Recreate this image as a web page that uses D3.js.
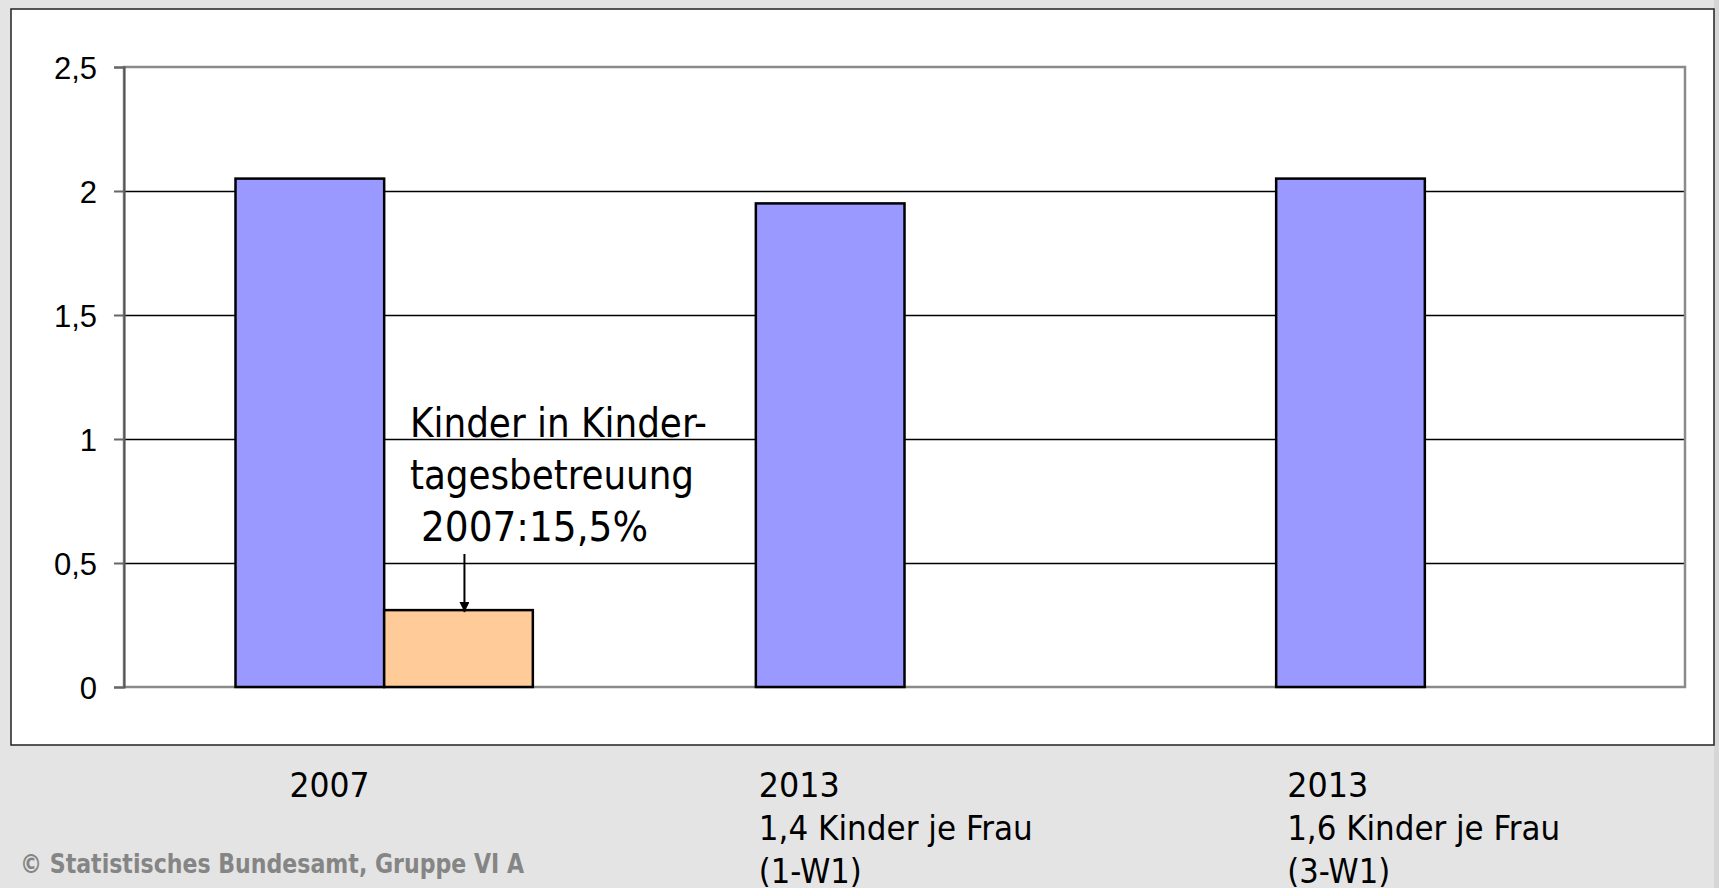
<!DOCTYPE html>
<html lang="de">
<head>
<meta charset="utf-8">
<title>Kinder je Frau</title>
<script src="https://cdnjs.cloudflare.com/ajax/libs/d3/7.8.5/d3.min.js"></script>
<style>
  body { margin: 0; background: #e4e4e4; }
  .narrow { font-family: "DejaVu Sans Condensed", "DejaVu Sans", sans-serif; font-stretch: condensed; }
</style>
</head>
<body>
<svg id="chart" width="1719" height="888"></svg>
<script>
// categories (x axis) and their label lines
var categories = ["2007", "2013 (1-W1)", "2013 (3-W1)"];
var categoryLabels = [["2007"], ["2013", "1,4 Kinder je Frau", "(1-W1)"], ["2013", "1,6 Kinder je Frau", "(3-W1)"]];
// series values
var seriesNames = ["kinder", "betreuung"];
var kinderJeFrau = [2.05, 1.95, 2.05];
var betreuung = [0.31, null, null];
var yTicks = [0, 0.5, 1, 1.5, 2, 2.5];

var svg = d3.select("#chart");
var W = 1719, H = 888;
var plot = {left: 124, right: 1685, top: 67, bottom: 687};

// stretch a text line to a width seen in the original
function fit(sel, w) {
  sel.attr("textLength", w).attr("lengthAdjust", "spacingAndGlyphs");
}

// background + white panel
svg.append("rect").attr("width", W).attr("height", H).attr("fill", "#e4e4e4");
svg.append("rect").attr("x", 1714).attr("y", 0).attr("width", 5).attr("height", H).attr("fill", "#d6d6d6");
svg.append("rect").attr("x", 11).attr("y", 9).attr("width", 1703).attr("height", 736)
  .attr("fill", "#fff").attr("stroke", "#222").attr("stroke-width", 1.5);

var x = d3.scaleBand().domain(categories).range([plot.left, plot.right]).padding(0);
var xSub = d3.scaleBand().domain(seriesNames).range([0, x.bandwidth()])
  .paddingInner(0).paddingOuter(0.75);
var y = d3.scaleLinear().domain([0, 2.5]).range([plot.bottom, plot.top]);

// gridlines
svg.append("g").selectAll("line").data(yTicks.filter(function(d){ return d > 0 && d < 2.5; }))
  .enter().append("line")
  .attr("x1", plot.left).attr("x2", plot.right)
  .attr("y1", function(d){ return Math.round(y(d)) + 0.5; }).attr("y2", function(d){ return Math.round(y(d)) + 0.5; })
  .attr("stroke", "#000").attr("stroke-width", 1.3);

// plot frame (gray)
svg.append("rect").attr("x", plot.left).attr("y", plot.top)
  .attr("width", plot.right - plot.left).attr("height", plot.bottom - plot.top)
  .attr("fill", "none").attr("stroke", "#8a8a8a").attr("stroke-width", 2.5);

// y axis
var yAxis = svg.append("g").attr("transform", "translate(" + plot.left + ",0)")
  .call(d3.axisLeft(y).tickValues(yTicks).tickSize(10).tickPadding(17)
    .tickFormat(function(d){ return String(d).replace(".", ","); }));
yAxis.select(".domain").attr("stroke", "#555").attr("stroke-width", 2);
yAxis.selectAll(".tick line").attr("stroke", "#666").attr("stroke-width", 2);
yAxis.selectAll(".tick text").attr("fill", "#000")
  .style("font-family", "'Liberation Sans', Arial, sans-serif").style("font-size", "31px")
  .attr("dy", "0.36em");

// bars
var rows = categories.map(function(c, i){ return {cat: c, kinder: kinderJeFrau[i], betreuung: betreuung[i]}; });
var colors = {kinder: "#9999ff", betreuung: "#ffcc99"};
seriesNames.forEach(function(s){
  svg.append("g").selectAll("rect")
    .data(rows.filter(function(r){ return r[s] != null; }))
    .enter().append("rect")
    .attr("x", function(r){ return x(r.cat) + xSub(s); })
    .attr("width", xSub.bandwidth())
    .attr("y", function(r){ return y(r[s]); })
    .attr("height", function(r){ return y(0) - y(r[s]); })
    .attr("fill", colors[s]).attr("stroke", "#000").attr("stroke-width", 2.5);
});

// annotation
var note = svg.append("text").attr("class", "narrow").attr("font-size", 40).attr("fill", "#000");
note.append("tspan").attr("x", 410).attr("y", 437).text("Kinder in Kinder-").call(fit, 297);
note.append("tspan").attr("x", 410).attr("y", 489).text("tagesbetreuung").call(fit, 284);
note.append("tspan").attr("x", 421).attr("y", 541).text("2007:15,5%").call(fit, 227);

svg.append("defs").append("marker").attr("id", "arr")
  .attr("viewBox", "0 0 10 10").attr("refX", 10).attr("refY", 5)
  .attr("markerWidth", 5).attr("markerHeight", 5).attr("orient", "auto")
  .append("path").attr("d", "M0,0L10,5L0,10z").attr("fill", "#000");
var ax = x(categories[0]) + xSub("betreuung") + xSub.bandwidth() * 0.54;
svg.append("line").attr("x1", ax).attr("x2", ax).attr("y1", 554).attr("y2", y(betreuung[0]) + 2)
  .attr("stroke", "#000").attr("stroke-width", 2).attr("marker-end", "url(#arr)");

// category labels below the panel
var labelDx = [54, 3, 11];
var labelWidths = [[80], [81, 274, 103], [81, 273, 103]];
categoryLabels.forEach(function(lines, i){
  var t = svg.append("text").attr("class", "narrow").attr("font-size", 34).attr("fill", "#000");
  lines.forEach(function(l, j){
    t.append("tspan").attr("x", x(categories[i]) + xSub("kinder") + labelDx[i])
      .attr("y", 797 + j * 43).text(l).call(fit, labelWidths[i][j]);
  });
});

// source
svg.append("text").attr("class", "narrow").attr("x", 20).attr("y", 873)
  .attr("font-size", 26).attr("font-weight", 600).attr("fill", "#858585")
  .text("© Statistisches Bundesamt, Gruppe VI A").call(fit, 504);
</script>
</body>
</html>
